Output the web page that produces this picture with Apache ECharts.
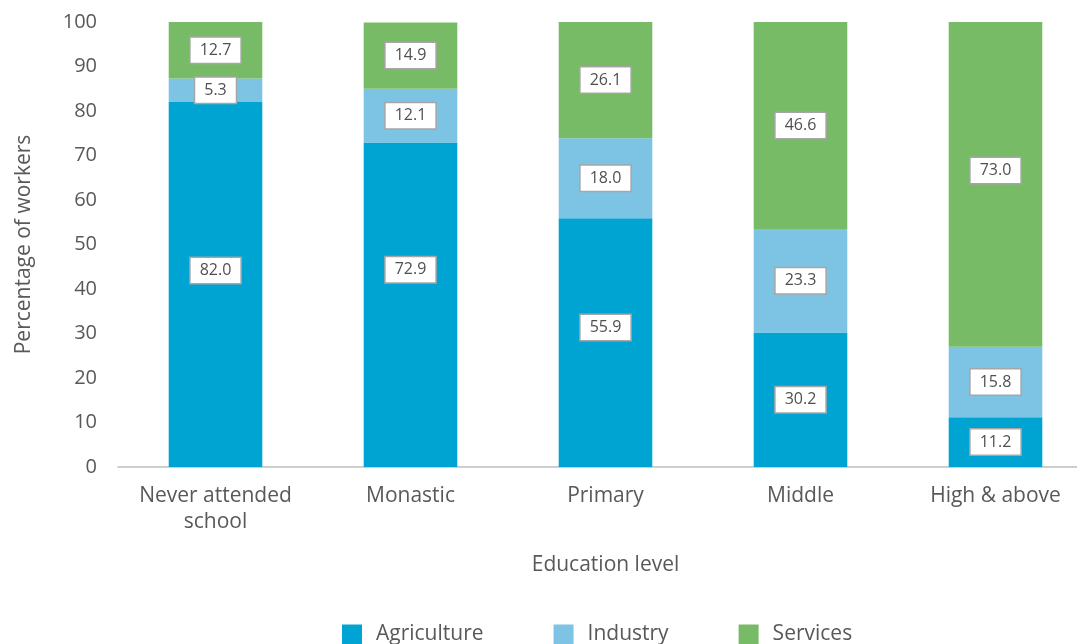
<!DOCTYPE html>
<html>
<head>
<meta charset="utf-8">
<script src="https://cdn.jsdelivr.net/npm/echarts@6/dist/echarts.min.js"></script>
<style>
  html, body { margin: 0; padding: 0; background: #fff; }
  #chart { width: 1077px; height: 644px; }
</style>
</head>
<body>
<div id="chart"></div>
<script>
// Share of workers by sector, for each education level (%)
const categories = ['Never attended\nschool', 'Monastic', 'Primary', 'Middle', 'High & above'];
const agriculture = [82.0, 72.9, 55.9, 30.2, 11.2];
const industry = [5.3, 12.1, 18.0, 23.3, 15.8];
const services = [12.7, 14.9, 26.1, 46.6, 73.0];

const FONT = '"Open Sans", Lato, sans-serif';
const TEXT = '#595959';

// Vertical nudges (px) for a few value boxes inside the tallest segments
const labelNudge = {
  Agriculture: [-14, -35, -15, 0, 0],
  Industry: [0, 0, 0, 0, 0],
  Services: [0, 0, 0, 0, -14]
};

const boxLabel = {
  show: true,
  position: 'inside',
  formatter: p => p.value.toFixed(1),
  color: '#505050',
  fontFamily: FONT,
  fontSize: 16,
  backgroundColor: '#ffffff',
  borderColor: '#a6a6a6',
  borderWidth: 1.5,
  padding: [5, 9, 4, 9]
};

function makeSeries(name, data, color) {
  return {
    name: name,
    type: 'bar',
    stack: 'total',
    data: data.map((v, i) => ({
      value: v,
      label: { offset: [0, labelNudge[name][i]] }
    })),
    barWidth: '48%',
    itemStyle: { color: color },
    label: boxLabel,
    emphasis: { disabled: true }
  };
}

const chart = echarts.init(document.getElementById('chart'), null, { renderer: 'canvas' });
chart.setOption({
  animation: false,
  textStyle: { fontFamily: FONT },
  grid: { left: 118, top: 22, width: 975, bottom: 177, outerBoundsMode: 'none', containLabel: false },
  legend: {
    bottom: -6,
    left: 337,
    itemWidth: 20,
    itemHeight: 20,
    itemGap: 70,
    icon: 'rect',
    textStyle: { color: TEXT, fontSize: 21, fontFamily: FONT, padding: [0, 0, 0, 9] },
    data: ['Agriculture', 'Industry', 'Services']
  },
  xAxis: {
    type: 'category',
    data: categories,
    name: 'Education level',
    nameLocation: 'middle',
    nameGap: 88,
    nameTextStyle: { color: TEXT, fontSize: 21, fontFamily: FONT },
    axisLine: { lineStyle: { color: '#bfbfbf', width: 1.5 } },
    axisTick: { show: false },
    axisLabel: { color: TEXT, fontSize: 21, fontFamily: FONT, margin: 16, lineHeight: 26, interval: 0, hideOverlap: false }
  },
  yAxis: {
    type: 'value',
    min: 0,
    max: 100,
    interval: 10,
    name: 'Percentage of workers',
    nameLocation: 'middle',
    nameGap: 83,
    nameTextStyle: { color: TEXT, fontSize: 21, fontFamily: FONT },
    axisLine: { show: false },
    axisTick: { show: false },
    splitLine: { show: false },
    axisLabel: { color: TEXT, fontSize: 20, fontFamily: FONT, margin: 21 }
  },
  series: [
    makeSeries('Agriculture', agriculture, '#00a4d3'),
    makeSeries('Industry', industry, '#7dc3e3'),
    makeSeries('Services', services, '#78bb66')
  ]
});
</script>
</body>
</html>
